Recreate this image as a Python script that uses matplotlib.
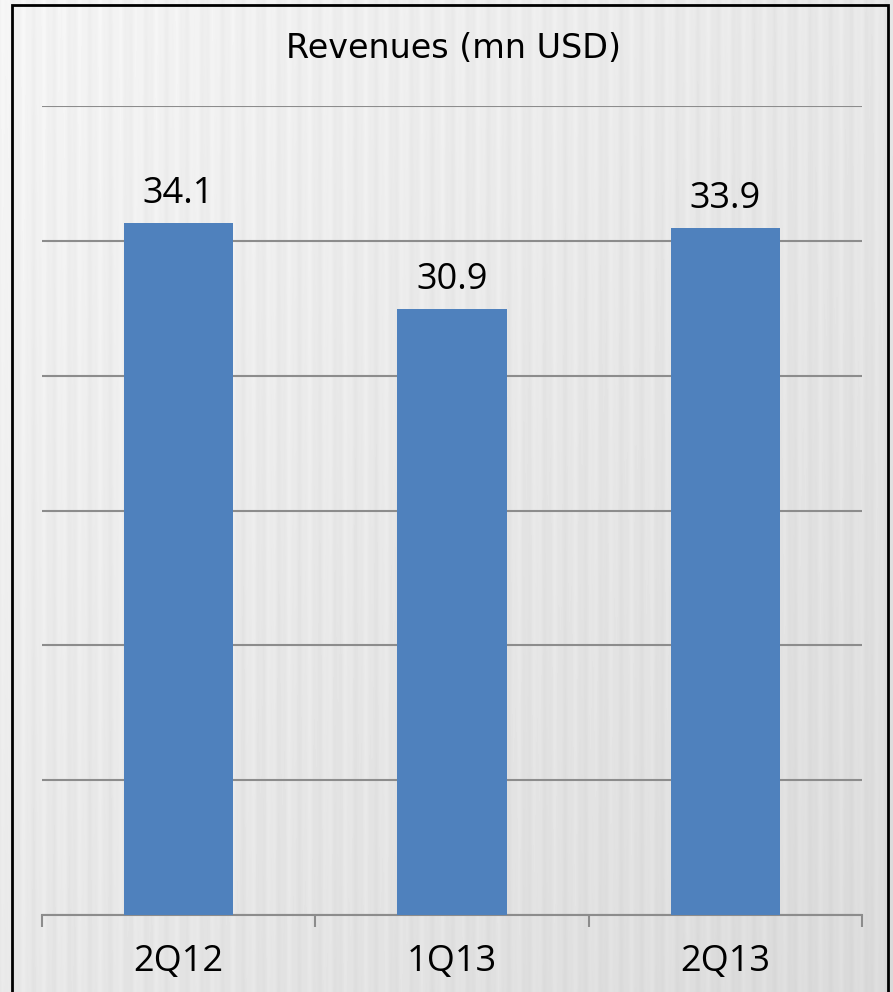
import matplotlib.pyplot as plt
import matplotlib.patches as patches
import numpy as np

plt.rcParams['font.family'] = ['Open Sans', 'DejaVu Sans']

quarters = ['2Q12', '1Q13', '2Q13']
revenues = [34.1, 30.9, 33.9]

# axe qui ne part pas de zero
y_min = 8.43
y_step = 5
y_max = y_min + 6 * y_step

W, H = 893, 992
fig = plt.figure(figsize=(W / 100, H / 100), dpi=100)

# fond gris avec des rayures verticales
bg = fig.add_axes([0, 0, 1, 1], zorder=-10)
xx = np.linspace(0, 1, W)
yy = np.linspace(0, 1, H)
X, Y = np.meshgrid(xx, yy)
base = 0.955 - 0.05 * X - 0.05 * Y
stripes = 0.012 * np.sin(X * W / 19.0 * 2 * np.pi) + 0.006 * np.sin(X * W / 7.0 * 2 * np.pi)
tex = np.clip(base + stripes, 0, 1)
bg.imshow(tex, cmap='gray', vmin=0, vmax=1, aspect='auto', interpolation='bilinear')
bg.axis('off')

# cadre noir
fig.patches.append(patches.Rectangle((12 / W, -0.05), 876 / W, 1.05 - 5 / H,
                                     transform=fig.transFigure, fill=False,
                                     edgecolor='black', linewidth=2))

ax = fig.add_axes([42 / W, (H - 915) / H, 820 / W, 809 / H])
ax.patch.set_alpha(0)

x = np.arange(len(quarters))
ax.bar(x, revenues, width=0.4, bottom=0, color='#4f81bd', zorder=3)
ax.set_xlim(-0.5, 2.5)
ax.set_ylim(y_min, y_max)

for xi, v in zip(x, revenues):
    ax.annotate(f'{v:.1f}', (xi, v), xytext=(0, 14.4), textcoords='offset points',
                ha='center', va='baseline', fontsize=26, color='black')

ax.set_yticks(np.arange(y_min, y_max + 0.01, y_step))
ax.yaxis.grid(True, color='#8c8c8c', linewidth=1.5)
ax.tick_params(axis='y', left=False, labelleft=False)

ax.set_xticks(x)
ax.set_xticklabels(quarters, fontsize=26)
ax.set_xticks([-0.5, 0.5, 1.5, 2.5], minor=True)
ax.tick_params(axis='x', which='major', length=0, pad=21)
ax.tick_params(axis='x', which='minor', length=8.6, width=1.5, color='#8c8c8c', direction='out')

for s in ['top', 'right', 'left']:
    ax.spines[s].set_visible(False)
ax.spines['bottom'].set_color('#8c8c8c')
ax.spines['bottom'].set_linewidth(1.5)

fig.text(453 / W, 1 - 58 / H, 'Revenues (mn USD)', ha='center', va='baseline',
         fontsize=24, family=['DejaVu Sans'])

plt.savefig('out.png', dpi=100)
